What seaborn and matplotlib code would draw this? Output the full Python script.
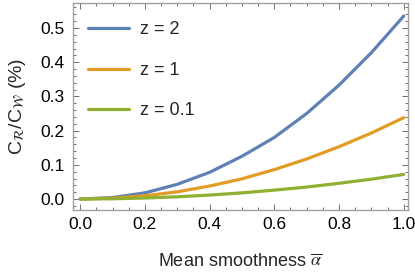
import numpy as np
import pandas as pd
import matplotlib
matplotlib.use("Agg")
import matplotlib.pyplot as plt
from matplotlib.ticker import MultipleLocator, FormatStrFormatter
import seaborn as sns

# values
alpha = [0.0, 0.1, 0.2, 0.3, 0.4, 0.5, 0.6, 0.7, 0.8, 0.9, 1.0]
ratio_z2 = [0.0, 0.0043, 0.018, 0.043, 0.078, 0.125, 0.180, 0.250, 0.333, 0.428, 0.535]
ratio_z1 = [0.0, 0.0024, 0.0095, 0.021, 0.038, 0.059, 0.086, 0.117, 0.153, 0.193, 0.238]
ratio_z01 = [0.0, 0.0007, 0.003, 0.0065, 0.0115, 0.018, 0.026, 0.035, 0.046, 0.058, 0.072]
labels = ["z = 2", "z = 1", "z = 0.1"]
colors = ["#5E81B5", "#E19C24", "#8FB032"]

frames = []
for lab, vals in zip(labels, [ratio_z2, ratio_z1, ratio_z01]):
    frames.append(pd.DataFrame({"alpha": alpha, "ratio": vals, "z": lab}))
df = pd.concat(frames, ignore_index=True)

sns.set_style("ticks")
plt.rcParams["font.family"] = ["Liberation Sans", "DejaVu Sans"]
plt.rcParams["mathtext.fontset"] = "stix"

fig = plt.figure(figsize=(4.15, 2.77), dpi=100)
ax = fig.add_axes([0.176, 0.242, 0.807, 0.747])

sns.lineplot(data=df, x="alpha", y="ratio", hue="z", hue_order=labels,
             palette=colors, linewidth=2.3, ax=ax)

ax.set_xlim(-0.022, 1.013)
ax.set_ylim(-0.032, 0.573)
ax.xaxis.set_major_locator(MultipleLocator(0.2))
ax.xaxis.set_minor_locator(MultipleLocator(0.05))
ax.yaxis.set_major_locator(MultipleLocator(0.1))
ax.yaxis.set_minor_locator(MultipleLocator(0.02))
ax.xaxis.set_major_formatter(FormatStrFormatter("%.1f"))
ax.yaxis.set_major_formatter(FormatStrFormatter("%.1f"))

frame_col = "#A0A0A0"
for sp in ax.spines.values():
    sp.set_color(frame_col)
    sp.set_linewidth(1.0)
ax.tick_params(which="both", direction="in", top=True, right=True,
               color="#707070", labelsize=12.5, labelcolor="black", width=0.7)
ax.tick_params(which="major", length=4.5)
ax.tick_params(which="minor", length=2.5)
ax.tick_params(axis="x", which="major", pad=5)
ax.tick_params(axis="y", which="major", pad=6)

ax.set_xlabel(r"Mean smoothness $\overline{\alpha}$", fontsize=13, labelpad=15)
ax.set_ylabel(r"C$_{\mathcal{R}}$/C$_{\mathcal{W}}$ (%)", fontsize=14, labelpad=9)

ax.legend(loc="upper left", bbox_to_anchor=(-0.004, 0.99), frameon=False,
          fontsize=13, handlelength=2.3, handletextpad=0.6, labelspacing=1.3)

fig.savefig("out.png", dpi=100)
